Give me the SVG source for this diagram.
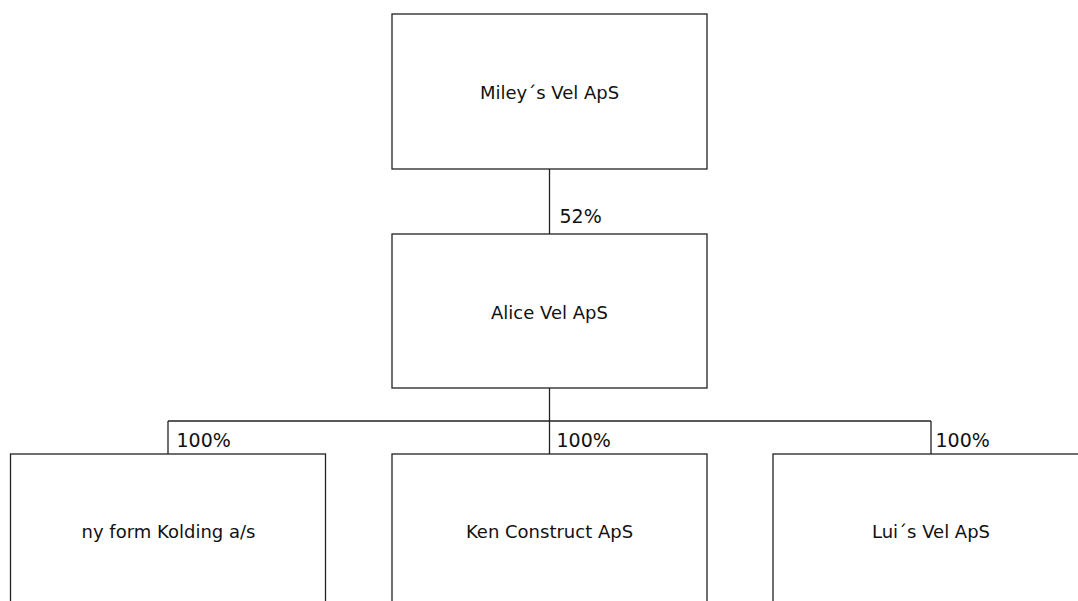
<svg xmlns="http://www.w3.org/2000/svg" width="1078" height="601" viewBox="0 0 1078 601">
<style>
.box{fill:#fff;stroke:#222;stroke-width:1.3}
.ln{stroke:#222;stroke-width:1.3;fill:none}
.t{font-family:"DejaVu Sans",sans-serif;font-size:18px;fill:#111;text-anchor:middle}
.p{font-family:"DejaVu Sans",sans-serif;font-size:19px;fill:#111}
</style>
<rect width="1078" height="601" fill="#fff"/>
<g id="connectors">
<path class="ln" d="M549.5 169V234"/>
<path class="ln" d="M549.5 388V421"/>
<path class="ln" d="M168 421H931"/>
<path class="ln" d="M168 421V454M549.5 421V454M931 421V454"/>
<text class="p" x="559.5" y="222.5">52%</text>
<text class="p" x="176.5" y="446.5">100%</text>
<text class="p" x="556.5" y="446.5">100%</text>
<text class="p" x="935.5" y="446.5">100%</text>
</g>
<g id="n1"><rect class="box" x="392" y="14" width="315" height="155"/><text class="t" x="549.5" y="98.5">Miley´s Vel ApS</text></g>
<g id="n2"><rect class="box" x="392" y="234" width="315" height="154"/><text class="t" x="549.5" y="318.5">Alice Vel ApS</text></g>
<g id="n3"><rect class="box" x="10.5" y="454" width="315" height="160"/><text class="t" x="168.5" y="538">ny form Kolding a/s</text></g>
<g id="n4"><rect class="box" x="392" y="454" width="315" height="160"/><text class="t" x="549.5" y="538">Ken Construct ApS</text></g>
<g id="n5"><rect class="box" x="773" y="454" width="315" height="160"/><text class="t" x="931" y="538">Lui´s Vel ApS</text></g>
</svg>
